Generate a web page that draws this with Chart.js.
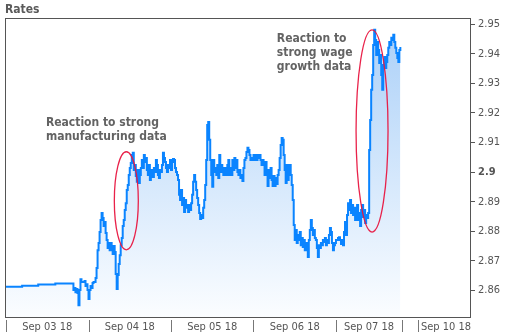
<!DOCTYPE html>
<html>
<head>
<meta charset="utf-8">
<script src="https://cdn.jsdelivr.net/npm/chart.js@4.4.1/dist/chart.umd.min.js"></script>
<style>
  html, body { margin: 0; padding: 0; background: #fff; }
  #wrap { width: 506px; height: 334px; }
</style>
</head>
<body>
<div id="wrap"><canvas id="c" width="506" height="334"></canvas></div>
<script>
// Intraday rate quotes, one array per trading session, evenly spaced over the session.
const SAMPLES_PER_SESSION = 82;

const sep03 = [
  2.8612,2.8612,2.8612,2.8612,2.8612,2.8612,2.8612,2.8612,2.8612,2.8612,2.8612,2.8612,2.8612,2.8612,2.8612,2.8612,
  2.8616,2.8616,2.8616,2.8616,2.8616,2.8616,2.8616,2.8616,2.8616,2.8616,2.8616,2.8616,2.8616,2.8616,2.8616,2.8616,
  2.8620,2.8620,2.8620,2.8620,2.8620,2.8620,2.8620,2.8620,2.8620,2.8620,2.8620,2.8620,2.8620,2.8620,2.8620,2.8620,2.8620,
  2.8623,2.8623,2.8623,2.8623,2.8623,2.8623,2.8623,2.8623,2.8623,2.8623,2.8623,2.8623,2.8623,2.8623,2.8623,2.8623,2.8623,
  2.8623,2.8601,2.8608,2.8594,2.8605,2.8591,2.8550,2.8601,2.8638,2.8628,2.8628,2.8628,2.8632,2.8615,2.8621,2.8601
];
const sep04 = [
  2.8571,2.8601,2.8615,2.8608,2.8625,2.8628,2.8628,2.8642,2.8676,2.8736,
  2.8760,2.8797,2.8838,2.8862,2.8845,2.8818,2.8831,2.8794,2.8770,2.8743,
  2.8760,2.8736,2.8760,2.8743,2.8723,2.8750,2.8730,2.8655,2.8605,2.8652,
  2.8689,2.8719,2.8753,2.8777,2.8818,2.8838,2.8872,2.8895,2.8939,2.8956,
  2.8990,2.9014,2.9031,2.9058,2.9065,2.9007,2.9024,2.8987,2.8967,2.9007,
  2.8963,2.8990,2.9014,2.9041,2.9014,2.9058,2.9034,2.9048,2.9007,2.8990,
  2.9024,2.8973,2.9007,2.8990,2.8983,2.9014,2.9000,2.9041,2.9024,2.8990,
  2.8980,2.9007,2.9000,2.9024,2.9065,2.9048,2.9034,2.9014,2.9000,2.9024,
  2.9014,2.9041
];
const sep05 = [
  2.9007,2.9034,2.9044,2.9041,2.9014,2.9000,2.8990,2.8973,2.8923,2.8906,
  2.8939,2.8889,2.8912,2.8865,2.8906,2.8879,2.8889,2.8865,2.8889,2.8872,
  2.8895,2.8923,2.8967,2.8990,2.8967,2.8939,2.8912,2.8889,2.8862,2.8841,
  2.8855,2.8845,2.8879,2.8906,2.8956,2.9041,2.9159,2.9169,2.9109,2.9041,
  2.8990,2.8950,2.9041,2.9000,2.9014,2.8990,2.9024,2.8980,2.9058,2.9000,
  2.9024,2.9007,2.8990,2.9014,2.9000,2.8990,2.9024,2.9041,2.8990,2.9014,
  2.8990,2.9041,2.9007,2.9048,2.9014,2.9041,2.9000,2.8990,2.9007,2.8980,
  2.8990,2.8970,2.9014,2.9041,2.9048,2.9068,2.9082,2.9075,2.9058,2.9041,
  2.9048,2.9041
];
const sep06 = [
  2.9058,2.9041,2.9058,2.9041,2.9058,2.9048,2.9058,2.9041,2.9024,2.9041,
  2.9031,2.8990,2.9034,2.9000,2.8953,2.9007,2.8980,2.9014,2.8973,2.8953,
  2.8987,2.8953,2.8980,2.8960,2.8990,2.9007,2.9048,2.9092,2.9115,2.9109,
  2.9058,2.9007,2.8963,2.9024,2.8973,2.9014,2.9024,2.8990,2.8956,2.8906,
  2.8821,2.8770,2.8804,2.8760,2.8787,2.8770,2.8797,2.8753,2.8777,2.8747,
  2.8770,2.8736,2.8760,2.8743,2.8713,2.8770,2.8804,2.8838,2.8811,2.8787,
  2.8804,2.8777,2.8770,2.8743,2.8713,2.8753,2.8743,2.8760,2.8753,2.8770,
  2.8764,2.8777,2.8753,2.8770,2.8760,2.8787,2.8811,2.8797,2.8760,2.8736,
  2.8753,2.8760
];
const sep07 = [
  2.8770,2.8770,2.8777,2.8780,2.8770,2.8757,2.8770,2.8753,2.8797,2.8831,
  2.8787,2.8855,2.8895,2.8872,2.8906,2.8862,2.8889,2.8855,2.8879,2.8838,
  2.8865,2.8889,2.8838,2.8862,2.8818,2.8872,2.8889,2.8848,2.8872,2.8828,
  2.8855,2.8845,2.8862,2.9075,2.9176,2.9278,2.9328,2.9430,2.9481,2.9447,
  2.9396,2.9440,2.9413,2.9369,2.9396,2.9328,2.9278,2.9362,2.9389,2.9352,
  2.9372,2.9396,2.9420,2.9440,2.9430,2.9454,2.9447,2.9464,2.9440,2.9420,
  2.9403,2.9386,2.9372,2.9413,2.9423
];
const sessions = [sep03, sep04, sep05, sep06, sep07];

// Session boundaries (hours on the compressed trading-time axis) and day labels.
const sessionBreaks = [0, 24, 48, 72, 96, 115.2, 120];
const dayLabelHours = [12, 36, 60, 84, 105.6, 128];
const dayLabels = ['Sep 03 18', 'Sep 04 18', 'Sep 05 18', 'Sep 06 18', 'Sep 07 18', 'Sep 10 18'];

// Right-hand rate axis.
const rateTicks = [2.86, 2.87, 2.88, 2.89, 2.90, 2.91, 2.92, 2.93, 2.94, 2.95];
const boldTick = 2.9;

// Callouts: ellipse centre/radii in axis units, text anchored at its first baseline.
const highlights = [
  { hour: 35.0, rate: 2.8903, hourRadius: 3.49, rateRadius: 0.01658 },
  { hour: 106.5, rate: 2.9139, hourRadius: 4.65, rateRadius: 0.03417 }
];
const notes = [
  { hour: 11.6, rate: 2.9156, lines: ['Reaction to strong', 'manufacturing data'] },
  { hour: 78.8, rate: 2.9440, lines: ['Reaction to', 'strong wage', 'growth data'] }
];

const FONT = "'DejaVu Sans Condensed', 'DejaVu Sans', sans-serif";

const points = sessions.flatMap((vals, d) =>
  vals.map((v, i) => ({ x: d * 24 + i * 24 / SAMPLES_PER_SESSION, y: v }))
);

const decorations = {
  id: 'decorations',
  afterDatasetsDraw(chart) {
    const { ctx, scales: { x, y } } = chart;
    ctx.save();
    // red ellipses around the two jumps
    ctx.strokeStyle = 'rgba(232, 22, 64, 0.95)';
    ctx.lineWidth = 1.3;
    highlights.forEach(h => {
      const cx = x.getPixelForValue(h.hour);
      const cy = y.getPixelForValue(h.rate);
      const rx = Math.abs(x.getPixelForValue(h.hour + h.hourRadius) - cx);
      const ry = Math.abs(y.getPixelForValue(h.rate + h.rateRadius) - cy);
      ctx.beginPath();
      ctx.ellipse(cx, cy, rx, ry, 0, 0, Math.PI * 2);
      ctx.stroke();
    });
    // callout text
    ctx.fillStyle = '#636363';
    ctx.font = 'bold 12px ' + FONT;
    ctx.textAlign = 'left';
    ctx.textBaseline = 'alphabetic';
    notes.forEach(n => {
      const px = x.getPixelForValue(n.hour);
      const py = y.getPixelForValue(n.rate);
      n.lines.forEach((line, k) => ctx.fillText(line, px, py + k * 14));
    });
    ctx.restore();
  },
  afterDraw(chart) {
    const { ctx, chartArea: a, scales: { x } } = chart;
    ctx.save();
    // plot frame
    ctx.strokeStyle = '#555';
    ctx.lineWidth = 1;
    ctx.strokeRect(a.left + 0.5, a.top + 0.5, a.right - a.left, a.bottom - a.top);
    // session separators under the time axis
    ctx.strokeStyle = '#777';
    sessionBreaks.forEach(h => {
      const px = Math.round(x.getPixelForValue(h)) + 0.5;
      ctx.beginPath();
      ctx.moveTo(px, a.bottom + 3);
      ctx.lineTo(px, a.bottom + 15);
      ctx.stroke();
    });
    // title
    ctx.fillStyle = '#5a5a5a';
    ctx.font = 'bold 12px ' + FONT;
    ctx.textAlign = 'left';
    ctx.textBaseline = 'alphabetic';
    ctx.fillText('Rates', 5, 13);
    ctx.restore();
  }
};

new Chart(document.getElementById('c'), {
  type: 'line',
  data: {
    datasets: [{
      data: points,
      borderColor: '#0a84ff',
      borderWidth: 2,
      pointRadius: 0,
      stepped: true,
      fill: 'start',
      backgroundColor: (c) => {
        const area = c.chart.chartArea;
        if (!area) return 'rgba(0,0,0,0)';
        const g = c.chart.ctx.createLinearGradient(0, area.top, 0, area.bottom);
        g.addColorStop(0, '#a9cff8');
        g.addColorStop(1, '#fbfdff');
        return g;
      }
    }]
  },
  options: {
    responsive: false,
    devicePixelRatio: 1,
    animation: false,
    layout: { padding: { top: 18, left: 5, right: 0, bottom: 0 } },
    plugins: { legend: { display: false }, tooltip: { enabled: false } },
    scales: {
      x: {
        type: 'linear',
        min: -0.3,
        max: 135,
        grid: { display: false, drawTicks: false },
        border: { display: false },
        ticks: {
          autoSkip: false,
          maxRotation: 0,
          padding: 4,
          color: '#555',
          font: { family: FONT, size: 11 },
          callback: (v, i) => dayLabels[i]
        },
        afterBuildTicks: s => { s.ticks = dayLabelHours.map(v => ({ value: v })); },
        afterFit: s => { s.height = 17; }
      },
      y: {
        position: 'right',
        min: 2.851,
        max: 2.9521,
        grid: { drawOnChartArea: false, drawTicks: true, tickLength: 5, color: '#555' },
        border: { display: false },
        ticks: {
          padding: 3,
          color: '#555',
          font: (c) => ({ family: FONT, size: 11, weight: (c.tick && c.tick.value === boldTick) ? 'bold' : 'normal' }),
          callback: v => String(v)
        },
        afterBuildTicks: s => { s.ticks = rateTicks.map(v => ({ value: v })); },
        afterFit: s => { s.width = 36; }
      }
    }
  },
  plugins: [decorations]
});
</script>
</body>
</html>
